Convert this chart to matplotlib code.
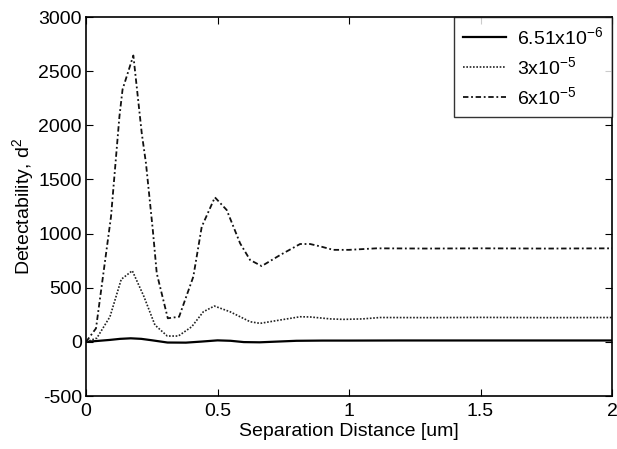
import numpy as np
import matplotlib
matplotlib.use('Agg')
import matplotlib.pyplot as plt

plt.rcParams['font.family'] = ['Liberation Sans', 'DejaVu Sans']
plt.rcParams['mathtext.default'] = 'regular'
plt.rcParams['axes.unicode_minus'] = False

# values
labels = ['6.51x10$^{-6}$', '3x10$^{-5}$', '6x10$^{-5}$']

x_low = [0, 0.04, 0.09, 0.13, 0.17, 0.21, 0.25, 0.31, 0.38, 0.44, 0.5, 0.55, 0.6, 0.66, 0.72,
         0.8, 0.9, 1.0, 1.2, 1.5, 2.0]
y_low = [0, 8, 18, 28, 33, 28, 15, -6, -7, 3, 14, 10, -2, -4, 2, 10, 12, 12, 13, 13, 13]

x_mid = [0, 0.041, 0.091, 0.134, 0.176, 0.22, 0.262, 0.309, 0.351, 0.402, 0.446, 0.488, 0.548,
         0.624, 0.662, 0.738, 0.814, 0.852, 0.883, 0.93, 0.978, 1.05, 1.118, 1.3, 1.5, 1.75, 2.0]
y_mid = [0, 35, 232, 578, 657, 420, 156, 54, 54, 140, 278, 331, 278,
         186, 171, 202, 232, 230, 223, 212, 208, 212, 225, 224, 226, 224, 225]

x_high = [0, 0.038, 0.095, 0.127, 0.139, 0.180, 0.212, 0.228, 0.254, 0.269, 0.311, 0.354,
          0.408, 0.44, 0.49, 0.535, 0.586, 0.624, 0.668, 0.738, 0.814, 0.852, 0.894,
          0.94, 1.0, 1.105, 1.3, 1.5, 1.75, 2.0]
y_high = [0, 125, 1156, 2080, 2332, 2645, 1926, 1649, 1033, 633, 218, 232,
          602, 1063, 1335, 1218, 910, 756, 700, 802, 904, 904, 880,
          850, 850, 864, 862, 864, 862, 864]

fig = plt.figure(figsize=(6.17, 4.49), dpi=100)
ax = fig.add_axes([0.1394, 0.118, 0.8525, 0.844])

ax.plot(x_low, y_low, color='black', linestyle='-', linewidth=1.6, label=labels[0])
ax.plot(x_mid, y_mid, color='#222222', linestyle=(0, (1, 1.0)), linewidth=1.2, label=labels[1])
ax.plot(x_high, y_high, color='#111111', linestyle=(0, (3, 1.5, 1, 1.5)), linewidth=1.3, label=labels[2])

ax.set_xlim(0, 2)
ax.set_ylim(-500, 3000)
ax.set_xticks([0, 0.5, 1, 1.5, 2])
ax.set_xticklabels(['0', '0.5', '1', '1.5', '2'])
ax.set_yticks(np.arange(-500, 3001, 500))
ax.tick_params(direction='in', top=True, right=True, labelsize=14, length=5)
ax.tick_params(axis='x', pad=5)
ax.tick_params(axis='y', pad=3)
for sp in ax.spines.values():
    sp.set_linewidth(1.2)

ax.set_xlabel('Separation Distance [um]', fontsize=14, labelpad=2)
ax.set_ylabel('Detectability, d$^2$', fontsize=14, labelpad=2)

leg = ax.legend(loc='upper right', fontsize=14, frameon=True, fancybox=False,
                edgecolor='black', borderaxespad=0, handlelength=2.2, handletextpad=0.55,
                labelspacing=0.42, borderpad=0.45)
leg.get_frame().set_linewidth(1.0)

fig.savefig('out.png', dpi=100)
